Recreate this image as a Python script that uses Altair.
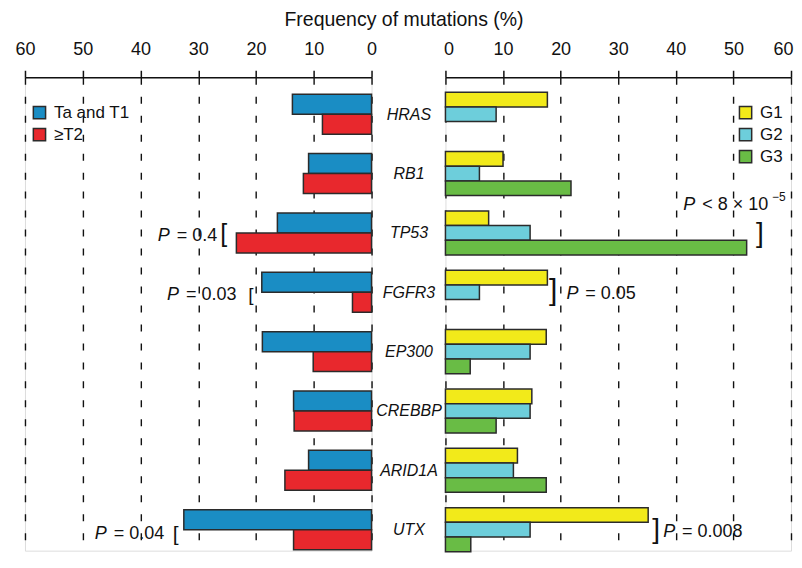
import altair as alt
import pandas as pd

# ---------------- data ----------------
genes = ["HRAS", "RB1", "TP53", "FGFR3", "EP300", "CREBBP", "ARID1A", "UTX"]

stage_groups = ["Ta and T1", "≥T2"]
ta_t1 = [13.7, 10.9, 16.3, 19.0, 18.9, 13.5, 10.9, 32.5]
t2 = [8.5, 11.8, 23.4, 3.3, 10.1, 13.4, 15.0, 13.5]

grade_groups = ["G1", "G2", "G3"]
g1 = [17.7, 10.0, 7.5, 17.7, 17.5, 15.0, 12.5, 35.2]
g2 = [8.8, 5.9, 14.7, 5.9, 14.7, 14.7, 11.8, 14.7]
g3 = [None, 21.8, 52.3, None, 4.3, 8.8, 17.5, 4.4]

stage_colors = ["#1a8dc4", "#e8282d"]
grade_colors = ["#f2ea1a", "#6dcedb", "#69bc45"]

ticks = [0, 10, 20, 30, 40, 50, 60]

# annotations
ann_panel = ["left", "left", "left", "right", "right", "right"]
ann_gene = ["TP53", "FGFR3", "UTX", "TP53", "FGFR3", "UTX"]
ann_pos = [37.0, 35.4, 47.9, 41.3, 21.0, 37.8]
ann_rest = ["= 0.4", "= 0.03", "= 0.04", "< 8 × 10", "= 0.05", "= 0.008"]
ann_text_dy = [3, 3, 4, -28, 2, 2]
br_glyph = ["[", "[", "[", "]", "]", "]"]
br_pos = [25.6, 20.9, 33.9, 54.6, 18.7, 36.6]
br_size = [25, 19, 21, 28, 30, 28]
br_dy = [1, 3, 5, 1, -1, 0]
sup_text = "−5"
sup_pos = 56.7

# ---------------- frames ----------------
left_df = pd.DataFrame(
    [{"gene": g, "group": stage_groups[0], "value": ta_t1[i]} for i, g in enumerate(genes)]
    + [{"gene": g, "group": stage_groups[1], "value": t2[i]} for i, g in enumerate(genes)]
)
right_rows = []
for grp, arr in zip(grade_groups, [g1, g2, g3]):
    for i, g in enumerate(genes):
        if arr[i] is not None:
            right_rows.append({"gene": g, "group": grp, "value": arr[i]})
right_df = pd.DataFrame(right_rows)

FONT = "Liberation Sans"
W_L, W_R, H = 347, 346, 474
STROKE = "#2b2b2b"


def x_axis(flush):
    return alt.Axis(
        orient="top", values=ticks, labelFontSize=18, labelColor="#111",
        labelPadding=12, tickSize=7, tickWidth=1.5, tickColor="#111",
        domainWidth=1.5, domainColor="#111", grid=True, gridDash=[7, 12],
        gridColor="#111", gridWidth=1.4, title=None, labelFont=FONT,
        labelFlush=flush, labelFlushOffset=2, labelOverlap=False,
    )


def y_scale():
    return alt.Scale(type="point", domain=genes, padding=0.488, align=0.638, round=False)


def legend(x):
    return alt.Legend(title=None, orient="none", legendX=x, legendY=27,
                      symbolType="square", symbolSize=150,
                      symbolStrokeColor=STROKE, symbolStrokeWidth=1.5,
                      symbolOpacity=1, labelFontSize=17, labelFont=FONT,
                      labelColor="#111", rowPadding=3, labelOffset=6)


# ---------------- left panel ----------------
yl = y_scale()
xl = alt.Scale(domain=[0, 60], reverse=True, nice=False)
left_offsets = [-10, 10]
left_layers = []
for k, grp in enumerate(stage_groups):
    left_layers.append(
        alt.Chart(left_df).transform_filter(alt.datum.group == grp)
        .mark_bar(stroke=STROKE, strokeWidth=1.5, height=20, yOffset=left_offsets[k])
        .encode(
            x=alt.X("value:Q", scale=xl, axis=x_axis(False)),
            y=alt.Y("gene:N", scale=yl, axis=alt.Axis(
                orient="right", ticks=False, domain=False, grid=False, title=None,
                labelFontSize=16, labelFontStyle="italic", labelAlign="center",
                labelPadding=37, labelColor="#111", labelFont=FONT)),
            color=alt.Color("group:N", scale=alt.Scale(domain=stage_groups, range=stage_colors),
                            legend=legend(6)),
        )
    )

# ---------------- right panel ----------------
yr = y_scale()
xr = alt.Scale(domain=[0, 60], nice=False)
right_offsets = [-14.7, 0, 14.7]
right_layers = []
for k, grp in enumerate(grade_groups):
    right_layers.append(
        alt.Chart(right_df).transform_filter(alt.datum.group == grp)
        .mark_bar(stroke=STROKE, strokeWidth=1.5, height=14.7, yOffset=right_offsets[k])
        .encode(
            x=alt.X("value:Q", scale=xr, axis=x_axis(True)),
            y=alt.Y("gene:N", scale=yr, axis=None),
            color=alt.Color("group:N", scale=alt.Scale(domain=grade_groups, range=grade_colors),
                            legend=legend(292)),
        )
    )


# ---------------- annotations ----------------
def ann_layers(panel, xs, ys):
    layers = []
    for i in range(len(ann_panel)):
        if ann_panel[i] != panel:
            continue
        d = pd.DataFrame([{"gene": ann_gene[i], "pos": ann_pos[i], "rest": ann_rest[i],
                           "br": br_glyph[i], "bpos": br_pos[i], "bsize": br_size[i]}])
        base = alt.Chart(d)
        layers.append(base.mark_text(align="left", baseline="middle", fontStyle="italic",
                                     fontSize=18, font=FONT, color="#111", dy=ann_text_dy[i]).encode(
            x=alt.X("pos:Q", scale=xs), y=alt.Y("gene:N", scale=ys), text=alt.value("P")))
        layers.append(base.mark_text(align="left", baseline="middle", fontSize=18, font=FONT,
                                     color="#111", dx=19, dy=ann_text_dy[i]).encode(
            x=alt.X("pos:Q", scale=xs), y=alt.Y("gene:N", scale=ys), text="rest:N"))
        layers.append(base.mark_text(align="center", baseline="middle", font=FONT,
                                     fontWeight=300, color="#111", dy=br_dy[i]).encode(
            x=alt.X("bpos:Q", scale=xs), y=alt.Y("gene:N", scale=ys), text="br:N",
            size=alt.Size("bsize:Q", scale=None, legend=None)))
        if panel == "right" and ann_gene[i] == "TP53":
            sd = pd.DataFrame([{"gene": ann_gene[i], "pos": sup_pos, "t": sup_text}])
            layers.append(alt.Chart(sd).mark_text(align="left", baseline="middle", fontSize=12,
                                                  font=FONT, color="#111", dy=ann_text_dy[i] - 8).encode(
                x=alt.X("pos:Q", scale=xs), y=alt.Y("gene:N", scale=ys), text="t:N"))
    return layers


left = alt.layer(*left_layers, *ann_layers("left", xl, yl)).properties(width=W_L, height=H)
right = alt.layer(*right_layers, *ann_layers("right", xr, yr)).properties(width=W_R, height=H)

chart = alt.hconcat(left, right, spacing=74, bounds="flush").resolve_scale(
    color="independent", x="independent", y="independent", size="independent"
).resolve_legend(color="independent").properties(
    title=alt.TitleParams("Frequency of mutations (%)", fontSize=19.5, fontWeight="normal",
                          anchor="middle", font=FONT, color="#111", offset=9),
    padding={"left": 6, "top": 2, "right": 0, "bottom": 0},
).configure_view(stroke=None).configure(font=FONT)

chart.save("out.html", embed_options={"renderer": "svg", "actions": False})
